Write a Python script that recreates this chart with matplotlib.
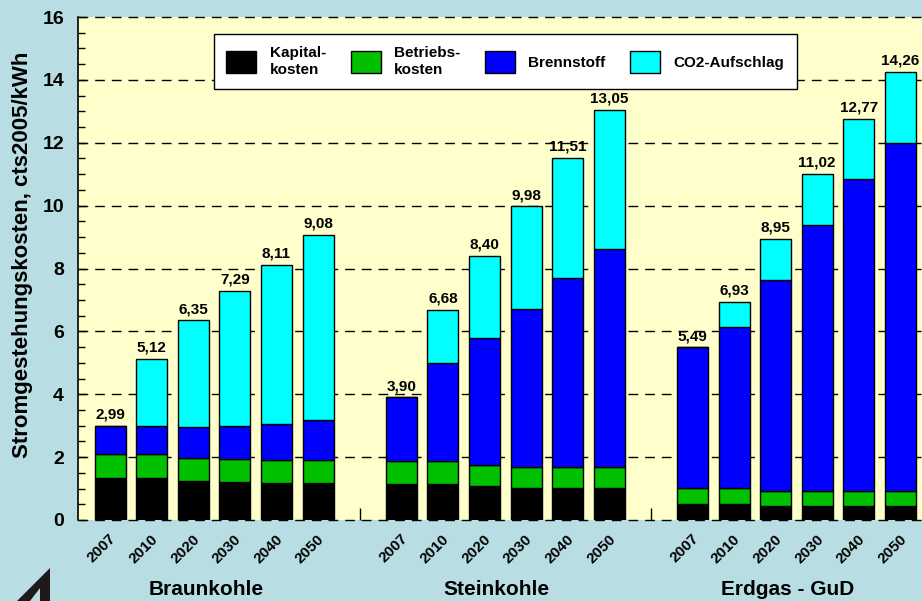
import matplotlib
matplotlib.use("Agg")
import numpy as np
from matplotlib import pyplot as plt
from matplotlib.patches import Polygon
from matplotlib.ticker import FixedLocator, MultipleLocator
from matplotlib.transforms import ScaledTranslation

plt.rcParams['font.family'] = ['Liberation Sans', 'DejaVu Sans']
plt.rcParams['font.weight'] = 'bold'

groups = ['Braunkohle', 'Steinkohle', 'Erdgas - GuD']
years = ['2007', '2010', '2020', '2030', '2040', '2050']

# cts2005/kWh, one value per bar (6 years x 3 plants)
kapital = [1.33, 1.33, 1.25, 1.20, 1.19, 1.19,
           1.13, 1.13, 1.08, 1.03, 1.03, 1.03,
           0.50, 0.50, 0.46, 0.46, 0.46, 0.46]
betrieb = [0.76, 0.76, 0.73, 0.73, 0.73, 0.73,
           0.75, 0.75, 0.66, 0.65, 0.65, 0.65,
           0.51, 0.53, 0.46, 0.46, 0.46, 0.46]
brennstoff = [0.90, 0.90, 0.99, 1.05, 1.14, 1.25,
              2.02, 3.11, 4.04, 5.03, 6.02, 6.94,
              4.48, 5.10, 6.71, 8.45, 9.92, 11.06]
co2 = [0.00, 2.13, 3.38, 4.31, 5.05, 5.91,
       0.00, 1.69, 2.62, 3.27, 3.81, 4.43,
       0.00, 0.80, 1.32, 1.65, 1.93, 2.28]
totals = [2.99, 5.12, 6.35, 7.29, 8.11, 9.08,
          3.90, 6.68, 8.40, 9.98, 11.51, 13.05,
          5.49, 6.93, 8.95, 11.02, 12.77, 14.26]

series = [('Kapital-\nkosten', kapital, '#000000'),
          ('Betriebs-\nkosten', betrieb, '#00c000'),
          ('Brennstoff', brennstoff, '#0000ff'),
          ('CO2-Aufschlag', co2, '#00ffff')]

bg = '#b8dee3'
fig = plt.figure(figsize=(9.22, 6.01), dpi=100, facecolor=bg)
ax = fig.add_axes([78 / 922, 81 / 601, 844 / 922, 503 / 601])
ax.set_facecolor('#ffffcc')

n_years = len(years)
pos = np.array([g * (n_years + 1) + i for g in range(len(groups)) for i in range(n_years)])

bottom = np.zeros(len(pos))
for label, vals, color in series:
    vals = np.array(vals)
    ax.bar(pos, vals, bottom=bottom, width=0.745, color=color,
           edgecolor='black', linewidth=1, label=label, zorder=3)
    bottom = bottom + vals

for x, tot in zip(pos, totals):
    ax.annotate(f'{tot:.2f}'.replace('.', ','), (x, tot), xytext=(0, 3),
                textcoords='offset points', ha='center', va='bottom',
                fontsize=11, fontweight='bold', zorder=4)

ax.set_xlim(-0.77, -0.77 + 844 / 41.6)
ax.set_ylim(0, 16)

for y in range(0, 17, 2):
    ax.axhline(y, color='black', linewidth=1, dashes=(7, 5), zorder=1, clip_on=False)

for s in ['top', 'right', 'bottom']:
    ax.spines[s].set_visible(False)
ax.spines['left'].set_linewidth(1.2)

ax.yaxis.set_major_locator(MultipleLocator(2))
ax.yaxis.set_minor_locator(MultipleLocator(0.5))
ax.tick_params(axis='y', which='major', direction='in', length=6, width=1,
               labelsize=14, pad=10)
ax.tick_params(axis='y', which='minor', direction='in', length=5, width=1)
for t in ax.get_yticklabels():
    t.set_fontweight('bold')

ax.set_xticks(pos)
ax.set_xticklabels(years * len(groups), rotation=45, ha='right', va='center',
                   rotation_mode='anchor', fontsize=11, fontweight='bold')
ax.tick_params(axis='x', which='major', length=0, pad=12)
shift = ScaledTranslation(4 / 100, 0, fig.dpi_scale_trans)
for t in ax.get_xticklabels():
    t.set_transform(t.get_transform() + shift)
ax.xaxis.set_minor_locator(FixedLocator([n_years, 2 * n_years + 1]))
ax.tick_params(axis='x', which='minor', direction='in', length=9, width=1)

for g, name in enumerate(groups):
    xc = g * (n_years + 1) + (n_years - 1) / 2 - 0.2
    ax.text(xc, -2.2, name, ha='center', va='center', fontsize=15,
            fontweight='bold', transform=ax.transData, clip_on=False)

ax.set_ylabel('Stromgestehungskosten, cts2005/kWh', fontsize=16, fontweight='bold')
ax.yaxis.set_label_coords(-0.053, 0.527)

leg = ax.legend(loc='center', bbox_to_anchor=(0.5065, 0.9115), ncol=4,
                fontsize=11, frameon=True, fancybox=False, framealpha=1,
                edgecolor='black', handlelength=1.95, handleheight=1.9,
                handletextpad=0.9, columnspacing=1.6, borderpad=0.8)
leg.get_frame().set_linewidth(1)
leg.set_zorder(5)
for t in leg.get_texts():
    t.set_fontweight('bold')

# logo fragment in the lower left corner
W, H = 922, 601
fig.patches.append(Polygon([(50 / W, 1 - 568 / H), (50 / W, 0), (17 / W, 0)],
                           closed=True, facecolor='#1e1a1a', edgecolor='none',
                           transform=fig.transFigure, figure=fig))
fig.patches.append(Polygon([(40 / W, 1 - 588 / H), (40 / W, 0), (30 / W, 0)],
                           closed=True, facecolor=bg, edgecolor='none',
                           transform=fig.transFigure, figure=fig))

fig.savefig('out.png', dpi=100, facecolor=bg)
